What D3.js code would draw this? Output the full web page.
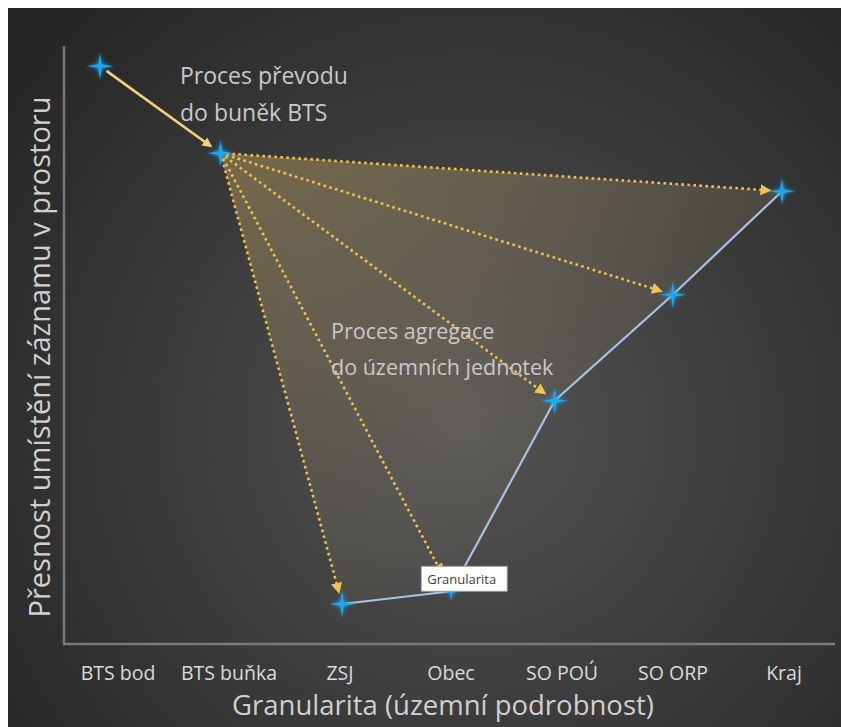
<!DOCTYPE html>
<html><head><meta charset="utf-8">
<script src="https://cdn.jsdelivr.net/npm/d3@7"></script>
<style>html,body{margin:0;padding:0;background:#fff;}svg{display:block;}</style>
</head><body>
<svg id="c" width="841" height="727"></svg>
<script>
// ---- data ----
const categories = ["BTS bod", "BTS buňka", "ZSJ", "Obec", "SO POÚ", "SO ORP", "Kraj"];
const granularity = [0, 1.06, 2.13, 3.09, 4.0, 5.04, 6.0];   // x position of each point (category index units)
const precision = [91, 77.3, 6.3, 8.3, 38.3, 55, 71.3];       // spatial precision (0-100)
const xTitle = "Granularita (územní podrobnost)";
const yTitle = "Přesnost umístění záznamu v prostoru";
const noteConvert = ["Proces převodu", "do buněk BTS"];
const noteAggregate = ["Proces agregace", "do územních jednotek"];
const pointLabel = "Granularita";

const svg = d3.select("#c");
const W = 841, H = 727;
const defs = svg.append("defs");

// background
const bg = defs.append("radialGradient").attr("id", "bg")
  .attr("gradientUnits", "userSpaceOnUse").attr("cx", 470).attr("cy", 430).attr("r", 560);
bg.append("stop").attr("offset", 0).attr("stop-color", "#535353");
bg.append("stop").attr("offset", 0.55).attr("stop-color", "#3b3b3b");
bg.append("stop").attr("offset", 1).attr("stop-color", "#272727");
svg.append("rect").attr("x", 8).attr("y", 8).attr("width", W - 8).attr("height", H - 8).attr("fill", "url(#bg)");

// scales
const x = d3.scaleLinear().domain([0, 6]).range([100, 782]);
const y = d3.scaleLinear().domain([0, 100]).range([644, 9]);
const xLab = d3.scalePoint().domain(categories).range([118, 784]);

const pts = categories.map((c, i) => ({ c, x: x(granularity[i]), y: y(precision[i]) }));

// axes lines
svg.append("line").attr("x1", 64).attr("x2", 64).attr("y1", 46).attr("y2", 644)
  .attr("stroke", "#8a8a8a").attr("stroke-width", 2.5).attr("opacity", 0.8);
svg.append("line").attr("x1", 63).attr("x2", 835).attr("y1", 644).attr("y2", 644)
  .attr("stroke", "#8a8a8a").attr("stroke-width", 2.5).attr("opacity", 0.8);

// fill polygon
const fg = defs.append("linearGradient").attr("id", "fillg")
  .attr("gradientUnits", "userSpaceOnUse").attr("x1", 221).attr("y1", 154).attr("x2", 500).attr("y2", 620);
fg.append("stop").attr("offset", 0).attr("stop-color", "#cfae62").attr("stop-opacity", 0.42);
fg.append("stop").attr("offset", 0.6).attr("stop-color", "#b8a580").attr("stop-opacity", 0.16);
fg.append("stop").attr("offset", 1).attr("stop-color", "#a8a090").attr("stop-opacity", 0.04);
const poly = pts.slice(1);
svg.append("path").attr("d", d3.line().x(d => d.x).y(d => d.y)(poly) + "Z")
  .attr("fill", "url(#fillg)");

// blue line
svg.append("path").attr("d", d3.line().x(d => d.x).y(d => d.y)(pts.slice(2)))
  .attr("fill", "none").attr("stroke", "#a9c2e0").attr("stroke-width", 2.2);

// markers
defs.append("marker").attr("id", "arrD").attr("viewBox", "0 0 10 10").attr("refX", 5).attr("refY", 5)
  .attr("markerWidth", 4.3).attr("markerHeight", 4.3).attr("orient", "auto").attr("markerUnits", "strokeWidth")
  .append("path").attr("d", "M0,0L10,5L0,10Z").attr("fill", "#f0c24e");
defs.append("marker").attr("id", "arrS").attr("viewBox", "0 0 10 10").attr("refX", 6).attr("refY", 5)
  .attr("markerWidth", 3.8).attr("markerHeight", 3.8).attr("orient", "auto").attr("markerUnits", "strokeWidth")
  .append("path").attr("d", "M0,0L10,5L0,10Z").attr("fill", "#f2d27e");

function shorten(a, b, s0, s1) {
  const dx = b.x - a.x, dy = b.y - a.y, L = Math.hypot(dx, dy);
  return [a.x + dx * s0 / L, a.y + dy * s0 / L, b.x - dx * s1 / L, b.y - dy * s1 / L];
}

// solid arrow bod -> buňka
{
  const [x1, y1, x2, y2] = shorten(pts[0], pts[1], 8, 14);
  svg.append("line").attr("x1", x1).attr("y1", y1).attr("x2", x2).attr("y2", y2)
    .attr("stroke", "#f2d27e").attr("stroke-width", 2.6).attr("marker-end", "url(#arrS)");
}
// dotted arrows from buňka
pts.slice(2).forEach(p => {
  const [x1, y1, x2, y2] = shorten(pts[1], p, 6, p.c === "Obec" ? 24 : 16);
  svg.append("line").attr("x1", x1).attr("y1", y1).attr("x2", x2).attr("y2", y2)
    .attr("stroke", "#f0c24e").attr("stroke-width", 2.6).attr("stroke-dasharray", "2.6 3.4")
    .attr("marker-end", "url(#arrD)");
});

// stars
const glow = defs.append("filter").attr("id", "glow").attr("x", "-100%").attr("y", "-100%").attr("width", "300%").attr("height", "300%");
glow.append("feGaussianBlur").attr("in", "SourceGraphic").attr("stdDeviation", 2.2).attr("result", "b");
const fm = glow.append("feMerge");
fm.append("feMergeNode").attr("in", "b");
fm.append("feMergeNode").attr("in", "SourceGraphic");
function starPath(R, r) {
  let d = "";
  for (let k = 0; k < 8; k++) {
    const a = k * Math.PI / 4 - Math.PI / 2;
    const rad = k % 2 === 0 ? R : r;
    d += (k ? "L" : "M") + (Math.cos(a) * rad).toFixed(2) + "," + (Math.sin(a) * rad).toFixed(2);
  }
  return d + "Z";
}
svg.selectAll("path.star").data(pts.filter(p => p.c !== "Obec")).join("path").attr("class", "star")
  .attr("transform", d => `translate(${d.x},${d.y})`)
  .attr("d", starPath(13, 2.6)).attr("fill", "#1aa8f0").attr("filter", "url(#glow)");
// Obec point (mostly hidden under label)
const ob = pts[3];
svg.append("path").attr("transform", `translate(${ob.x},${ob.y})`)
  .attr("d", starPath(9, 2)).attr("fill", "#1aa8f0").attr("filter", "url(#glow)");

// point label box
const lb = svg.append("g").attr("transform", `translate(${ob.x - 30},${ob.y - 25})`);
lb.append("rect").attr("x", 0).attr("y", 0).attr("width", 86).attr("height", 25)
  .attr("fill", "#ffffff").attr("stroke", "#9a9a9a").attr("stroke-width", 1);
lb.append("text").attr("x", 6).attr("y", 17.5).text(pointLabel)
  .attr("font-family", "Open Sans").attr("font-size", 13).attr("fill", "#3c3c3c");

// notes
const noteStyle = (s, fs) => s.attr("font-family", "Open Sans").attr("font-size", fs).attr("fill", "#c9c9c9");
noteConvert.forEach((t, i) => svg.append("text").attr("x", 180).attr("y", 84 + i * 37).text(t).call(noteStyle, 23));
noteAggregate.forEach((t, i) => svg.append("text").attr("x", 331).attr("y", 339 + i * 36).text(t).call(noteStyle, 21.5));

// tick labels
svg.selectAll("text.tick").data(categories).join("text").attr("class", "tick")
  .attr("x", d => xLab(d)).attr("y", 680).attr("text-anchor", "middle").text(d => d)
  .attr("font-family", "Open Sans").attr("font-size", 19.5).attr("fill", "#dadada");

// axis titles
svg.append("text").attr("x", 443).attr("y", 715).attr("text-anchor", "middle").text(xTitle)
  .attr("font-family", "Open Sans").attr("font-size", 27.5).attr("fill", "#d0d0d0");
svg.append("text").attr("transform", "translate(50,357) rotate(-90)").attr("text-anchor", "middle").text(yTitle)
  .attr("font-family", "Open Sans").attr("font-size", 29).attr("fill", "#d0d0d0");
</script>
</body></html>
